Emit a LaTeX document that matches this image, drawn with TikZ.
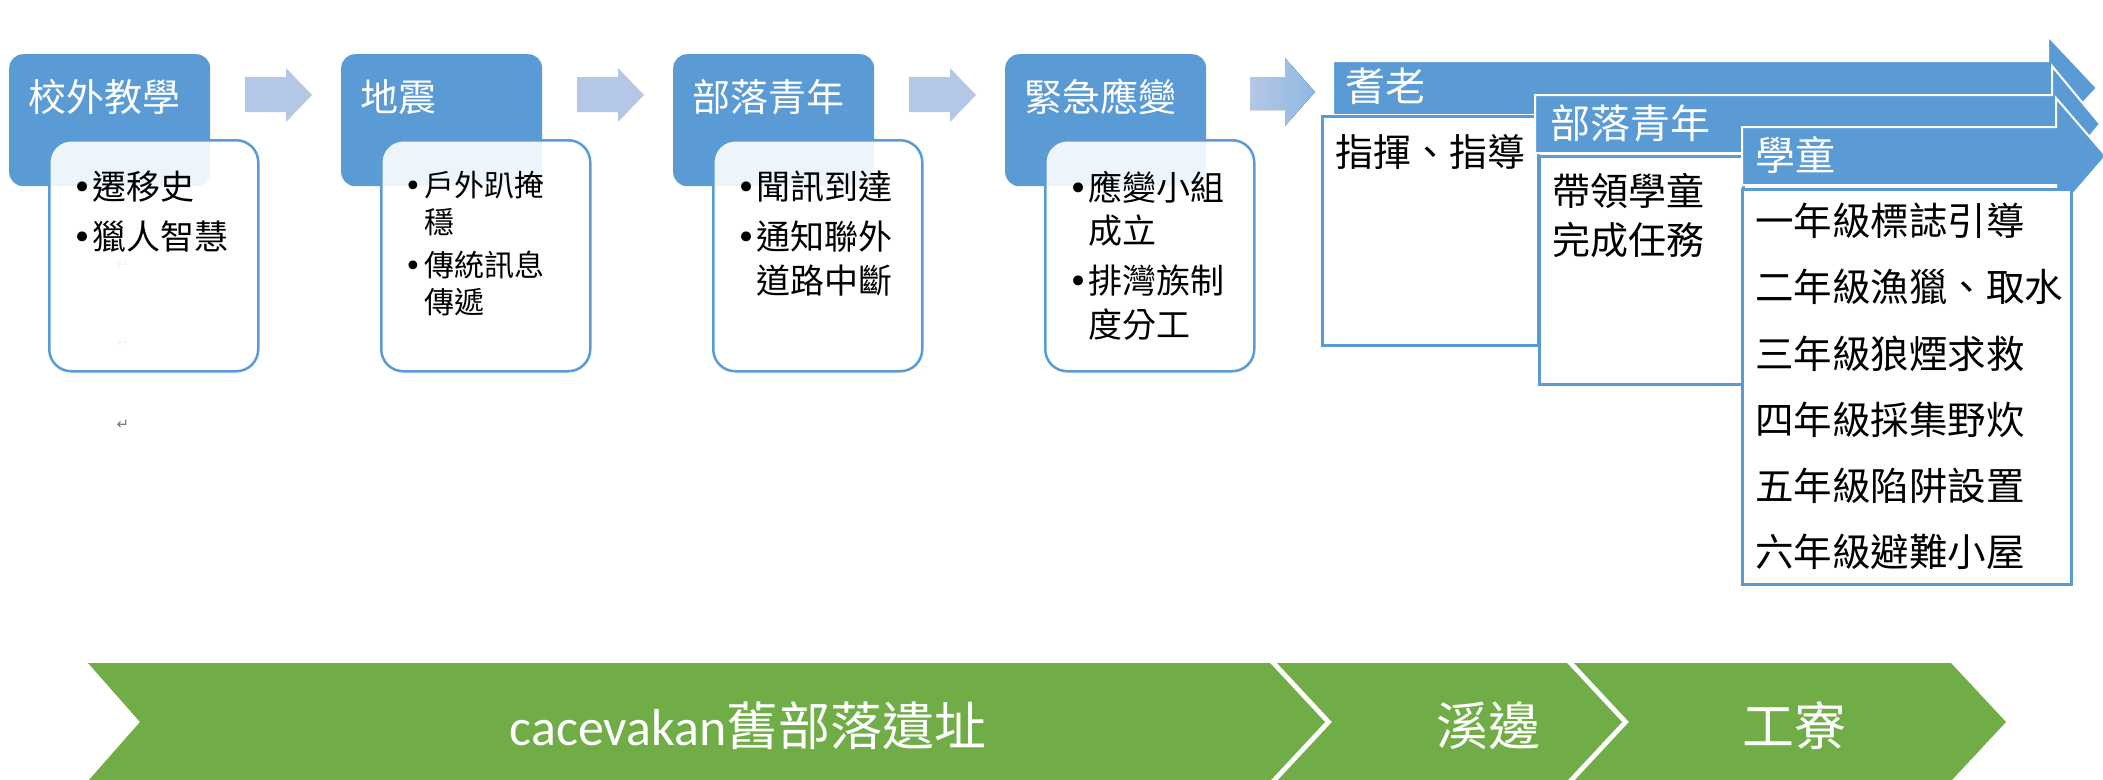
\documentclass[tikz,border=0pt]{standalone}
\usepackage{fontspec}
\setmainfont{Noto Sans CJK TC}
\newfontfamily\latinfont{Carlito}
\newfontfamily\symbolfont{DejaVu Sans}
\usetikzlibrary{positioning}

\definecolor{stepblue}{HTML}{5B9BD5}
\definecolor{arrowblue}{HTML}{B4C7E7}
\definecolor{arrowdeep}{HTML}{8FB8E2}
\definecolor{groundgreen}{HTML}{70AD47}

% Bullet and hanging indent for the note boxes.
\newcommand{\bul}{\makebox[20pt][l]{\symbolfont •}}
\newcommand{\hang}{\hspace*{20pt}}

\begin{document}
\begin{tikzpicture}[%
        x = 1pt,
        y = -1pt,
        titlebox/.style = {fill = stepblue, rounded corners = 14pt,
            minimum width = 201pt, minimum height = 132pt,
            anchor = north west, inner sep = 0pt},
        notebox/.style = {draw = stepblue, line width = 2.5pt,
            fill = white, fill opacity = 0.9, rounded corners = 22pt,
            minimum width = 209pt, minimum height = 231pt,
            anchor = north west, inner sep = 0pt},
        titletext/.style = {text = white, anchor = west, inner sep = 0pt,
            font = \fontsize{38}{44}\selectfont},
        notetext/.style = {align = left, anchor = north west, inner sep = 0pt,
            font = \fontsize{34}{43.5}\selectfont},
        stepnote/.style = {draw = stepblue, line width = 3pt, fill = white,
            anchor = north west, inner sep = 0pt},
        steptext/.style = {text = white, anchor = west, inner sep = 0pt,
            font = \fontsize{40}{46}\selectfont},
        listtext/.style = {align = left, inner sep = 0pt,
            font = \fontsize{38}{49}\selectfont},
        stepband/.style = {fill = stepblue, draw = white, line width = 2pt},
        chevron/.style = {fill = groundgreen},
        groundtext/.style = {text = white, inner sep = 0pt,
            font = \fontsize{52}{58}\selectfont},
        parmark/.style = {inner sep = 0pt, font = \symbolfont\fontsize{15}{15}\selectfont},
    ]

        \useasboundingbox (0, 0) rectangle (2103, 779);
        \clip (0, 0) rectangle (2103, 779);

        % Title boxes of the four stages.
        \node[titlebox] (tA) at (9, 54) {};
        \node[titlebox] (tB) at (341, 54) {};
        \node[titlebox] (tC) at (673, 54) {};
        \node[titlebox] (tD) at (1005, 54) {};

        \node[titletext] (tAtext) at ([shift = {(19, 43)}]tA.north west) {校外教學};
        \node[titletext] (tBtext) at ([shift = {(19, 43)}]tB.north west) {地震};
        \node[titletext] (tCtext) at ([shift = {(19, 43)}]tC.north west) {部落青年};
        \node[titletext] (tDtext) at ([shift = {(19, 43)}]tD.north west) {緊急應變};

        % Block arrows between the stages.
        \foreach \ax in {245, 577, 909} {
            \fill[arrowblue] (\ax, 77) -- ++(41, 0) -- ++(0, -9) -- ++(26, 27)
                -- ++(-26, 27) -- ++(0, -10) -- ++(-41, 0) -- cycle;
        }
        \fill[left color = arrowblue, right color = arrowdeep]
            (1250, 77) -- (1285, 77) -- (1285, 58) -- (1315, 92)
            -- (1285, 126) -- (1285, 110) -- (1250, 110) -- cycle;

        % Paragraph marks left over in the first column.
        \node[parmark, text = black!45] (pA) at (123, 265) {↵};
        \node[parmark, text = black!45] (pB) at (123, 343) {↵};
        \node[parmark, text = black!55] (pC) at (123, 425) {↵};

        % Note boxes under the titles.
        \node[notebox] (nA) at ([shift = {(39, 85)}]tA.north west) {};
        \node[notebox] (nB) at ([shift = {(39, 85)}]tB.north west) {};
        \node[notebox] (nC) at ([shift = {(39, 85)}]tC.north west) {};
        \node[notebox] (nD) at ([shift = {(39, 85)}]tD.north west) {};

        \node[notetext] (nAtext) at ([shift = {(24, 32)}]nA.north west)
            {\bul 遷移史\\[6.5pt]\bul 獵人智慧};
        \node[notetext, font = \fontsize{30}{37.5}\selectfont] (nBtext)
            at ([shift = {(24, 32)}]nB.north west)
            {\bul 戶外趴掩\\\hang 穩\\[5pt]\bul 傳統訊息\\\hang 傳遞};
        \node[notetext] (nCtext) at ([shift = {(24, 32)}]nC.north west)
            {\bul 聞訊到達\\[6.5pt]\bul 通知聯外\\\hang 道路中斷};
        \node[notetext] (nDtext) at ([shift = {(24, 32)}]nD.north west)
            {\bul 應變小組\\\hang 成立\\[6.5pt]\bul 排灣族制\\\hang 度分工};

        % Stepped arrows of the three groups.
        \draw[stepband] (1333, 61) -- (2048, 61) -- (2048, 36) -- (2097, 88)
            -- (2048, 140) -- (2048, 115) -- (1333, 115) -- cycle;
        \node[steptext] (sAtext) at (1345, 86) {耆老};
        \node[stepnote, minimum width = 216pt, minimum height = 229pt] (rA)
            at (1321, 115) {};
        \node[listtext, anchor = west] (rAtext) at ([shift = {(14, 37)}]rA.north west)
            {指揮、指導};

        \draw[stepband] (1535, 95) -- (2052, 95) -- (2052, 66) -- (2100, 124)
            -- (2052, 182) -- (2052, 153) -- (1535, 153) -- cycle;
        \node[steptext] (sBtext) at (1550, 123) {部落青年};
        \node[stepnote, minimum width = 204pt, minimum height = 228pt] (rB)
            at (1538, 155) {};
        \node[listtext, anchor = north west] (rBtext) at ([shift = {(14, 18)}]rB.north west)
            {帶領學童\\完成任務};

        \draw[stepband] (1742, 127) -- (2056, 127) -- (2056, 98) -- (2106, 156)
            -- (2056, 214) -- (2056, 185) -- (1742, 185) -- cycle;
        \node[steptext] (sCtext) at (1755, 155) {學童};
        \node[stepnote, minimum width = 329pt, minimum height = 395pt] (rC)
            at (1741, 188) {};
        \node[listtext, anchor = north west, font = \fontsize{38.5}{66.2}\selectfont]
            (rCtext) at ([shift = {(14, 15)}]rC.north west)
            {一年級標誌引導\\二年級漁獵、取水\\三年級狼煙求救\\四年級採集野炊\\五年級陷阱設置\\六年級避難小屋};

        % Chevrons of the places along the ground.
        \fill[chevron] (88, 663) -- (1270, 663) -- (1325, 722) -- (1270, 781)
            -- (88, 781) -- (140, 722) -- cycle;
        \fill[chevron] (1277, 663) -- (1567, 663) -- (1622, 722) -- (1567, 781)
            -- (1277, 781) -- (1332, 722) -- cycle;
        \fill[chevron] (1574, 663) -- (1951, 663) -- (2006, 722) -- (1951, 781)
            -- (1574, 781) -- (1629, 722) -- cycle;

        \node[groundtext] (gA) at (748, 726) {{\latinfont cacevakan}舊部落遺址};
        \node[groundtext] (gB) at (1488, 726) {溪邊};
        \node[groundtext] (gC) at (1794, 726) {工寮};
    \end{tikzpicture}
\end{document}
